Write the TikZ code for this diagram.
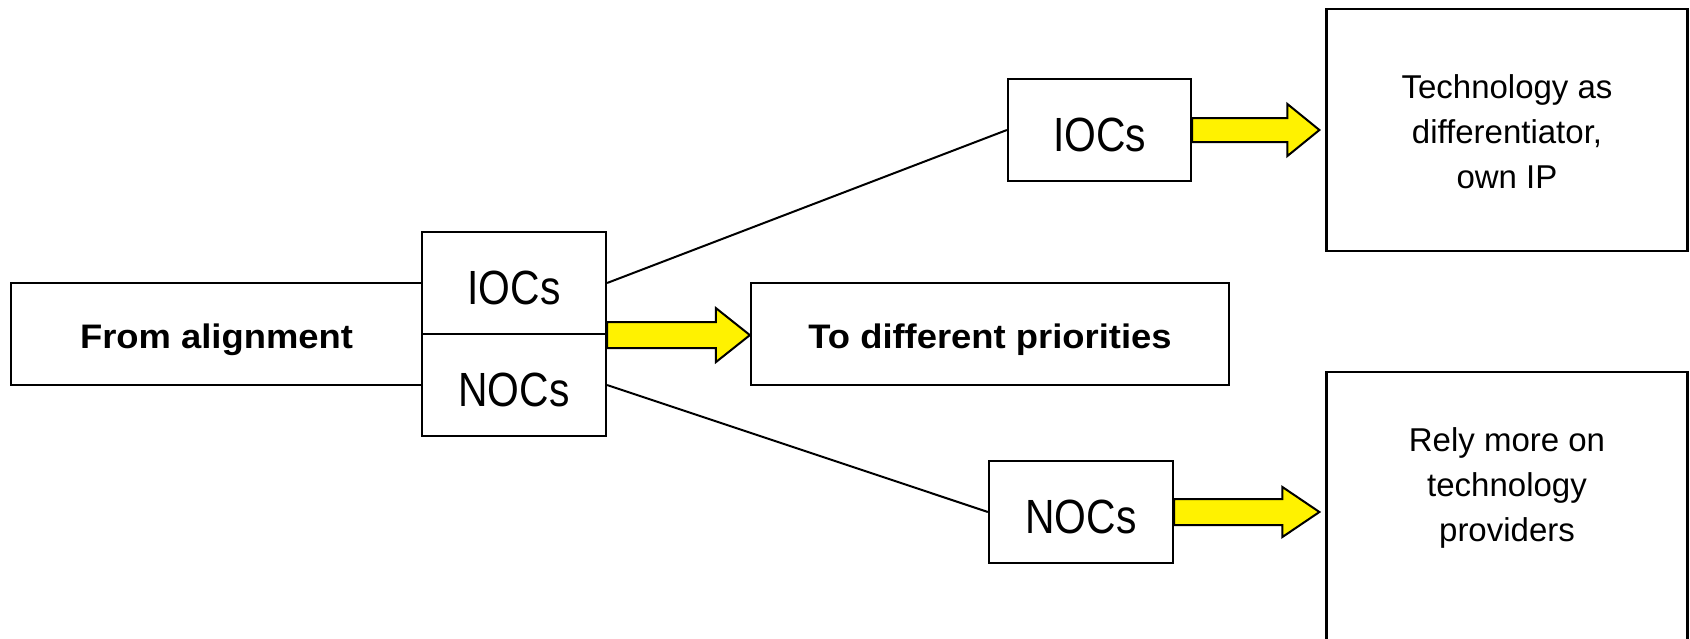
\documentclass[tikz,border=0pt]{standalone}
\usepackage{fontspec}
\setmainfont{Liberation Sans}
\newfontfamily\condf[FakeStretch=0.85]{Liberation Sans}
\newfontfamily\wideb[FakeStretch=1.07]{Liberation Sans Bold}
\usetikzlibrary{calc}
\tikzset{
  box/.style={draw=black, line width=2.2pt, fill=white, inner sep=0pt, align=center},
  boldlab/.style={font=\wideb\fontsize{34}{40}\selectfont, text height=28pt, text depth=0pt},
  biglab/.style={font=\condf\fontsize{48}{56}\selectfont, text height=42pt, text depth=0pt},
  sidelab/.style={font=\fontsize{33}{45}\selectfont, align=center, inner sep=0pt},
  link/.style={draw=black, line width=2pt},
  fat/.style={draw=black, line width=2pt, fill=yellow, line join=miter},
}
\newcommand\fatarrow[5]{% source, target, shaft half, head half, head length
  \path[fat] let \p1=(#1), \p2=(#2) in
    (\x1,{\y1+#3pt}) -- ({\x2-#5pt},{\y1+#3pt}) -- ({\x2-#5pt},{\y1+#4pt}) --
    (\x2,\y1) -- ({\x2-#5pt},{\y1-#4pt}) -- ({\x2-#5pt},{\y1-#3pt}) --
    (\x1,{\y1-#3pt}) -- cycle;}
\begin{document}
\begin{tikzpicture}[x=1pt,y=-1pt]
\useasboundingbox (0,0) rectangle (1690,638);
\fill[white] (0,0) rectangle (1690,638);
% nodes
\node[box, boldlab, minimum width=411pt, minimum height=102pt] (from) at (216.5,334) {From alignment};
\node[box, biglab, minimum width=184pt, minimum height=102pt] (mioc) at (514,283) {IOCs};
\node[box, biglab, minimum width=184pt, minimum height=102pt] (mnoc) at (514,385) {NOCs};
\node[box, boldlab, minimum width=478pt, minimum height=102pt] (prio) at (990,334) {To different priorities};
\node[box, biglab, minimum width=183pt, minimum height=102pt] (tioc) at (1099.5,130) {IOCs};
\node[box, biglab, minimum width=184pt, minimum height=102pt] (bnoc) at (1081,512) {NOCs};
\node[box, minimum width=361pt, minimum height=242pt] (tech) at (1507,130) {};
\node[box, minimum width=361pt, minimum height=348pt] (rely) at (1507,546) {};
\node[sidelab] (techtxt) at (1507,132) {Technology as\\differentiator,\\own IP};
\node[sidelab] (relytxt) at (1507,488) {Rely more on\\technology\\providers};
% connectors
\draw[link] (mioc.east) -- (tioc.west);
\draw[link] (mnoc.east) -- (bnoc.west);
\fatarrow{mioc.south east}{prio.west}{13}{27}{34}
\fatarrow{tioc.east}{$(tech.west)+(-6,0)$}{12}{26}{32}
\fatarrow{bnoc.east}{$(rely.west)+(-6,0)$}{13}{25}{37}
\end{tikzpicture}
\end{document}
